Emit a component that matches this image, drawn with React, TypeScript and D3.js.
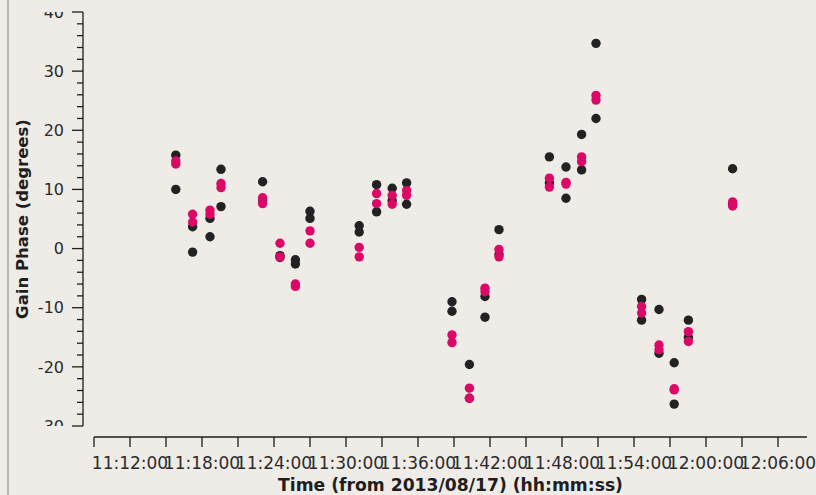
import { useEffect, useRef } from 'react';
import * as d3 from 'd3';

// scan times (2013/08/17) and gain phases in degrees, two solutions per series
const scanTimes = [
    '11:15:49', '11:17:13', '11:18:40', '11:19:35', '11:23:03', '11:24:30', '11:25:47', '11:27:00',
    '11:31:06', '11:32:33', '11:33:51', '11:35:03', '11:38:50', '11:40:17', '11:41:35', '11:42:45',
    '11:46:57', '11:48:20', '11:49:38', '11:50:50', '11:54:38', '11:56:05', '11:57:21', '11:58:32',
    '12:02:13',
];
const blackPhaseA = [15.8, 3.7, 5.1, 13.4, 11.3, -1.2, -1.9, 6.3, 3.85, 10.8, 10.2, 11.1, -9.0, -19.6, -8.1, 3.2, 15.5, 13.8, 19.3, 34.7, -8.6, -10.3, -19.3, -12.1, 13.5];
const blackPhaseB = [10.0, -0.6, 2.0, 7.1, 8.2, -1.5, -2.6, 5.1, 2.8, 6.2, 8.1, 7.5, -10.6, -25.3, -11.6, -1.0, 11.1, 8.5, 13.3, 22.0, -12.1, -17.7, -26.3, -15.0, 7.5];
const pinkPhaseA = [14.8, 5.8, 6.5, 11.0, 8.6, 0.9, -6.0, 3.0, 0.2, 9.3, 9.0, 9.8, -14.6, -23.6, -6.7, -0.15, 11.9, 11.2, 15.5, 25.9, -9.8, -16.3, -23.7, -14.05, 7.9];
const pinkPhaseB = [14.3, 4.5, 5.8, 10.3, 7.6, -1.4, -6.4, 0.9, -1.4, 7.6, 7.5, 9.0, -15.9, -25.3, -7.3, -1.4, 10.4, 10.9, 14.7, 25.1, -10.9, -17.1, -23.9, -15.7, 7.2];

const yMajorTicks = [-30, -20, -10, 0, 10, 20, 30, 40];

const W = 816;
const H = 495;

export default function App() {
    const svgRef = useRef(null);

    useEffect(() => {
        const svg = d3.select(svgRef.current);
        svg.selectAll('*').remove();

        const parse = d3.timeParse('%Y-%m-%d %H:%M:%S');
        const day = '2013-08-17 ';
        const x = d3.scaleTime()
            .domain([parse(day + '11:09:00'), parse(day + '12:08:25')])
            .range([94, 807]);
        const y = d3.scaleLinear().domain([-30, 40]).range([426, 12]);

        svg.append('rect').attr('width', W).attr('height', H).attr('fill', '#efece8');
        svg.append('line')
            .attr('x1', 8).attr('x2', 8).attr('y1', 0).attr('y2', H)
            .attr('stroke', '#b9b7b4').attr('stroke-width', 2);

        const ink = '#1e1e1e';
        const font = "'DejaVu Sans', sans-serif";

        // y axis
        const yAxisX = 83;
        svg.append('line')
            .attr('x1', yAxisX).attr('x2', yAxisX).attr('y1', y(40)).attr('y2', y(-30))
            .attr('stroke', ink).attr('stroke-width', 1.3);
        const minor = d3.range(-30, 40.1, 2);
        svg.append('g').selectAll('line')
            .data(minor)
            .enter()
            .append('line')
            .attr('x1', d => yAxisX - (d % 10 === 0 ? 11 : 6))
            .attr('x2', yAxisX)
            .attr('y1', d => y(d))
            .attr('y2', d => y(d))
            .attr('stroke', ink)
            .attr('stroke-width', 1.3);

        svg.append('clipPath').attr('id', 'ylab-clip')
            .append('rect').attr('x', 0).attr('y', y(40)).attr('width', yAxisX).attr('height', y(-30) - y(40));

        svg.append('g').attr('clip-path', 'url(#ylab-clip)')
            .selectAll('text')
            .data(yMajorTicks)
            .enter()
            .append('text')
            .attr('x', 64)
            .attr('y', d => y(d))
            .attr('dy', '0.36em')
            .attr('text-anchor', 'end')
            .attr('font-family', font)
            .attr('font-size', 16)
            .attr('fill', '#2a2a2a')
            .text(d => d);

        svg.append('text')
            .attr('transform', `translate(28, ${(y(40) + y(-30)) / 2}) rotate(-90)`)
            .attr('text-anchor', 'middle')
            .attr('font-family', font)
            .attr('font-weight', 'bold')
            .attr('font-size', 16.5)
            .attr('fill', '#1e1e1e')
            .text('Gain Phase (degrees)');

        // x axis
        const xAxisY = 437;
        svg.append('line')
            .attr('x1', 94).attr('x2', 807).attr('y1', xAxisY).attr('y2', xAxisY)
            .attr('stroke', ink).attr('stroke-width', 1.3);
        const xTicks = x.ticks(d3.timeMinute.every(3));
        svg.append('g').selectAll('line')
            .data(xTicks)
            .enter()
            .append('line')
            .attr('x1', d => x(d)).attr('x2', d => x(d))
            .attr('y1', xAxisY).attr('y2', xAxisY + 10)
            .attr('stroke', ink).attr('stroke-width', 1.3);
        const fmt = d3.timeFormat('%H:%M:%S');
        svg.append('g').selectAll('text')
            .data(xTicks.filter(d => d.getMinutes() % 6 === 0))
            .enter()
            .append('text')
            .attr('x', d => x(d))
            .attr('y', 469)
            .attr('text-anchor', 'middle')
            .attr('font-family', font)
            .attr('font-size', 17)
            .attr('fill', '#2a2a2a')
            .text(d => fmt(d));

        svg.append('text')
            .attr('x', (94 + 807) / 2)
            .attr('y', 491)
            .attr('text-anchor', 'middle')
            .attr('font-family', font)
            .attr('font-weight', 'bold')
            .attr('font-size', 17.2)
            .attr('fill', '#1e1e1e')
            .text('Time (from 2013/08/17) (hh:mm:ss)');

        // points, pink drawn over black
        const times = scanTimes.map(t => parse(day + t));
        const series = [
            { vals: blackPhaseA, color: '#222222' },
            { vals: blackPhaseB, color: '#222222' },
            { vals: pinkPhaseA, color: '#dc0868' },
            { vals: pinkPhaseB, color: '#dc0868' },
        ];
        series.forEach(s => {
            svg.append('g').selectAll('circle')
                .data(s.vals)
                .enter()
                .append('circle')
                .attr('cx', (d, i) => x(times[i]))
                .attr('cy', d => y(d))
                .attr('r', 4.7)
                .attr('fill', s.color);
        });
    }, []);

    return (
        <div style={{ position: 'fixed', left: 0, top: 0, width: W, height: H }}>
            <svg ref={svgRef} width={W} height={H} style={{ display: 'block' }}></svg>
        </div>
    );
}
